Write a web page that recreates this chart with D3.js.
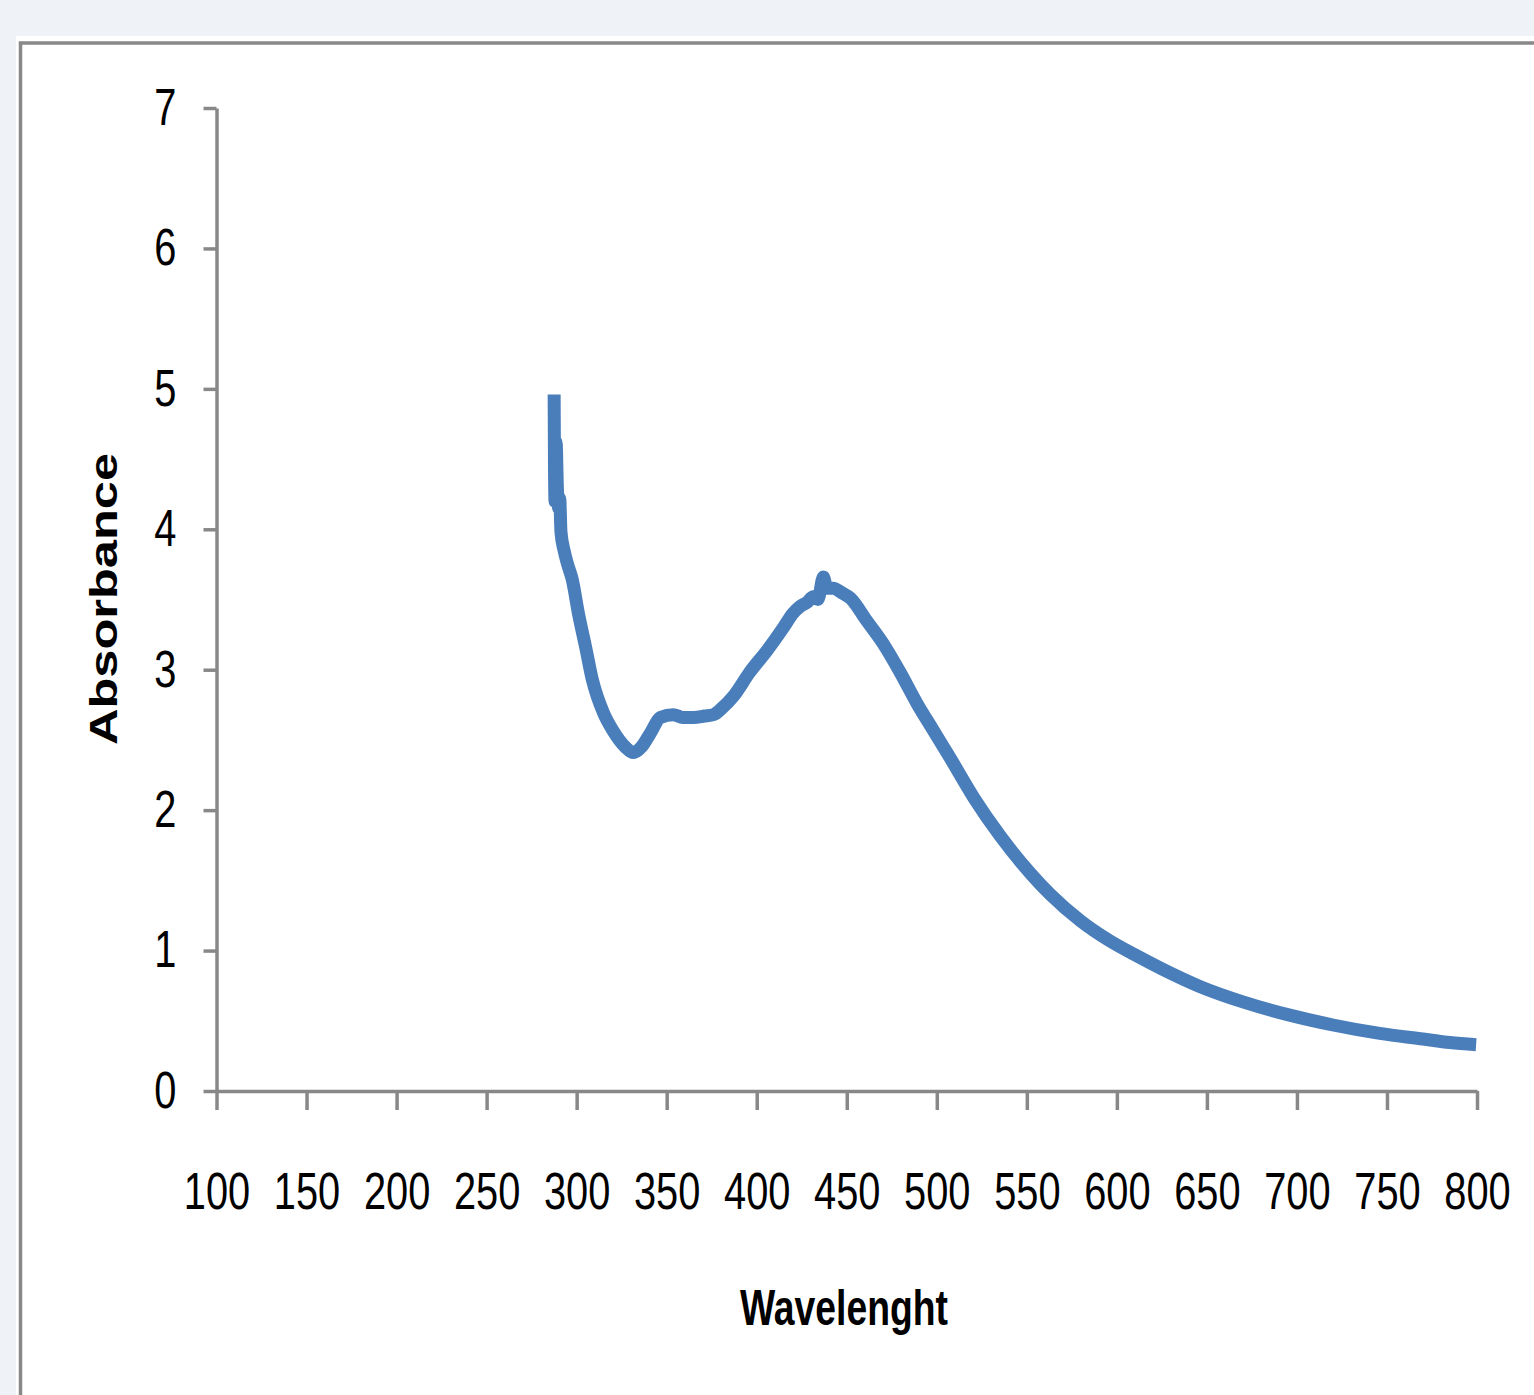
<!DOCTYPE html>
<html>
<head>
<meta charset="utf-8">
<script src="https://cdn.jsdelivr.net/npm/d3@7"></script>
<style>
  html, body { margin: 0; padding: 0; background: #eff2f7; }
  #chart { width: 1534px; height: 1395px; }
</style>
</head>
<body>
<div id="chart"></div>
<script>
// spectrum
const wavelength = [
  287.5, 287.7, 288.0, 288.6, 289.3, 290.0, 290.6, 291.3, 293.0, 295.0,
  297.6, 301.0, 305.0, 308.7, 315.0, 320.0, 327.0, 331.5, 336.0,
  341.0, 346.5, 353.7, 359.0, 365.0, 371.0, 376.0, 381.0, 387.0, 396.0,
  405.9, 414.8, 420.0, 424.0, 428.0, 431.4, 434.0, 437.0, 439.0, 442.5,
  447.0, 452.0, 461.0, 470.0, 479.7, 489.0, 498.0, 507.5, 521.0, 535.0,
  552.0, 563.0, 580.0, 596.0, 610.0, 625.0, 646.0, 670.0, 696.0, 720.0,
  746.0, 770.0, 785.0, 799.5
];
const absorbance = [
  4.96, 4.45, 4.20, 4.62, 4.30, 4.15, 4.22, 3.98, 3.85, 3.75,
  3.64, 3.40, 3.16, 2.93, 2.69, 2.57, 2.45, 2.41, 2.45,
  2.55, 2.66, 2.68, 2.66, 2.66, 2.67, 2.68, 2.73, 2.81, 2.98,
  3.14, 3.30, 3.40, 3.45, 3.48, 3.52, 3.50, 3.66, 3.58, 3.58,
  3.55, 3.51, 3.35, 3.19, 2.98, 2.76, 2.57, 2.37, 2.08, 1.82,
  1.55, 1.40, 1.21, 1.07, 0.97, 0.87, 0.745, 0.635, 0.54, 0.47,
  0.41, 0.37, 0.345, 0.33
];
const xTicks = d3.range(100, 801, 50);
const yTicks = [0, 1, 2, 3, 4, 5, 6, 7];
const xTitle = "Wavelenght";
const yTitle = "Absorbance";

const width = 1534, height = 1395;
const axisColor = "#888888";
const squeeze = 0.78;

const svg = d3.select("#chart").append("svg")
  .attr("width", width)
  .attr("height", height);

// chart area panel + frame
svg.append("rect")
  .attr("x", 16).attr("y", 36)
  .attr("width", width).attr("height", height)
  .attr("fill", "#ffffff");
svg.append("rect")
  .attr("x", 20.5).attr("y", 43)
  .attr("width", width).attr("height", height)
  .attr("fill", "none")
  .attr("stroke", axisColor)
  .attr("stroke-width", 3.5);

const xScale = d3.scaleLinear().domain([100, 800]).range([216.5, 1477]);
const yScale = d3.scaleLinear().domain([0, 7]).range([1091, 108]);

const squeezeText = (sel) => {
  sel.each(function () {
    const t = d3.select(this);
    const x = +t.attr("x") || 0;
    t.attr("x", 0).attr("transform", `translate(${x},0) scale(${squeeze},1)`);
  });
};

const yAxis = svg.append("g")
  .attr("transform", `translate(${xScale(100)},0)`)
  .call(d3.axisLeft(yScale).tickValues(yTicks).tickFormat(d3.format("d"))
    .tickSize(13).tickSizeOuter(0).tickPadding(27));

const xAxis = svg.append("g")
  .attr("transform", `translate(0,${yScale(0)})`)
  .call(d3.axisBottom(xScale).tickValues(xTicks).tickFormat(d3.format("d"))
    .tickSize(19).tickSizeOuter(0).tickPadding(63));

[xAxis, yAxis].forEach((ax) => {
  ax.select(".domain").attr("stroke", axisColor).attr("stroke-width", 3.5);
  ax.selectAll(".tick line").attr("stroke", axisColor).attr("stroke-width", 3.5);
  ax.selectAll(".tick text")
    .attr("fill", "#000")
    .style("font-family", "'Liberation Sans', Arial, sans-serif")
    .style("font-size", "51px")
    .call(squeezeText);
});

// spectrum line
const points = wavelength.map((w, i) => [w, absorbance[i]]);
const line = d3.line()
  .x((d) => xScale(d[0]))
  .y((d) => yScale(d[1]))
  .curve(d3.curveMonotoneX);

svg.append("path")
  .datum(points)
  .attr("fill", "none")
  .attr("stroke", "#4a7ebb")
  .attr("stroke-width", 13)
  .attr("stroke-linejoin", "round")
  .attr("stroke-linecap", "butt")
  .attr("d", line);

// axis titles
svg.append("text")
  .attr("x", 844).attr("y", 1325)
  .attr("text-anchor", "middle")
  .attr("textLength", 208)
  .attr("lengthAdjust", "spacingAndGlyphs")
  .style("font-family", "'Liberation Sans', Arial, sans-serif")
  .style("font-weight", "bold")
  .style("font-size", "50px")
  .text(xTitle);

svg.append("text")
  .attr("transform", `translate(117,599) rotate(-90) scale(1,${squeeze})`)
  .attr("text-anchor", "middle")
  .attr("textLength", 292)
  .attr("lengthAdjust", "spacingAndGlyphs")
  .style("font-family", "'Liberation Sans', Arial, sans-serif")
  .style("font-weight", "bold")
  .style("font-size", "50px")
  .text(yTitle);
</script>
</body>
</html>
